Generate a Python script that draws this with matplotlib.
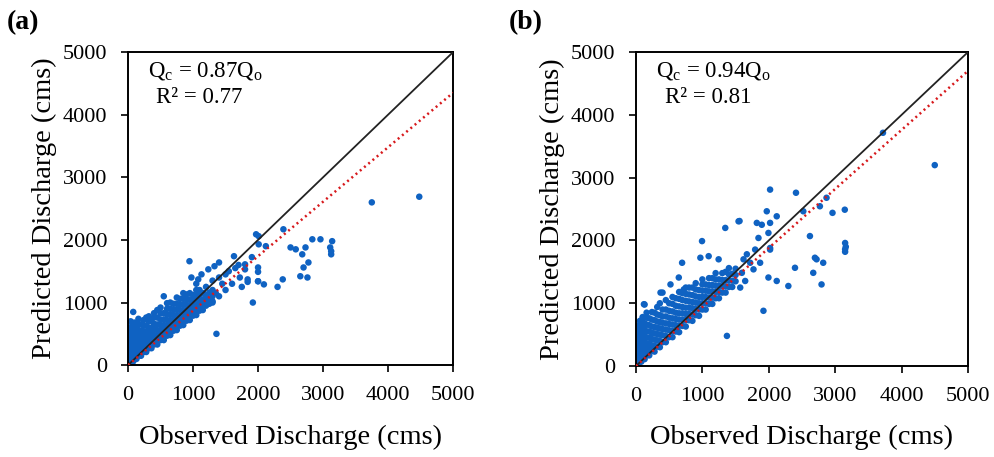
import numpy as np
import matplotlib.pyplot as plt

plt.rcParams['font.family'] = ['Liberation Serif', 'DejaVu Serif']
plt.rcParams['mathtext.fontset'] = 'custom'
plt.rcParams['mathtext.rm'] = 'Liberation Serif'
plt.rcParams['mathtext.it'] = 'Liberation Serif:italic'

# ---- panel (a) data (cms) ----
# dense cloud near origin: observed x -> list of predicted y
cloud_a_x = [0, 20, 40, 60, 80, 100, 130, 160, 200, 240, 280, 320, 360, 400, 450,
             500, 550, 600, 650, 700, 750, 800, 850, 900, 950, 1000, 1050, 1100, 1150,
             1200, 1250, 1300]
cloud_a_y = [
    [20, 80, 150, 250, 350, 450, 550],
    [40, 110, 190, 280, 380, 480, 600],
    [30, 100, 180, 260, 340, 420, 520, 700],
    [70, 140, 210, 290, 370, 450, 540, 620],
    [60, 130, 200, 280, 360, 450, 540, 850],
    [110, 180, 250, 330, 420, 510, 600, 680],
    [100, 170, 250, 330, 410, 500, 600],
    [150, 220, 300, 380, 470, 560, 660, 740],
    [150, 220, 300, 380, 460, 550, 650],
    [210, 280, 360, 450, 540, 630, 720],
    [210, 280, 360, 440, 530, 630, 760],
    [270, 340, 420, 510, 600, 700, 780],
    [270, 340, 420, 500, 590, 700],
    [330, 400, 480, 570, 660, 760, 830],
    [330, 400, 480, 560, 650, 760, 880],
    [400, 470, 550, 640, 730, 830, 920],
    [400, 480, 560, 640, 730, 830],
    [470, 550, 630, 720, 810, 900, 990],
    [480, 560, 640, 720, 810, 900, 1000],
    [550, 630, 710, 800, 890, 980],
    [560, 640, 720, 800, 890, 980, 1080],
    [630, 710, 790, 880, 970, 1060],
    [640, 720, 800, 880, 970, 1060, 1150],
    [710, 790, 870, 960, 1050, 1130],
    [720, 800, 880, 960, 1050, 1150],
    [790, 870, 950, 1040, 1120],
    [800, 880, 960, 1040, 1120, 1200],
    [870, 950, 1030, 1110],
    [880, 960, 1040, 1150],
    [950, 1030, 1110],
    [980, 1060, 1160],
    [1020, 1100, 1200],
]
obs_a = [550, 945, 975, 1080, 1130, 1235, 1330, 1400, 1630, 1360, 1200, 1300, 1400,
         1450, 1500, 1550, 1350, 1250, 1600, 1650, 1700, 1500, 1400, 1300, 1100, 1050,
         1150, 1970, 2010, 2010, 2120, 2390, 1905, 1800, 1800, 2000, 2000, 2000, 1720,
         1840, 1840, 1750, 2000, 2090, 1920, 2300, 2380, 2500, 2580, 2730, 2680, 2775,
         2700, 2650, 2760, 2835, 2960, 3140, 3110, 3125, 3125, 3750, 4480]
pred_a = [1100, 1660, 1400, 1370, 1450, 1530, 1580, 1640, 1740, 500, 1250, 1350, 1400,
          1300, 1450, 1500, 1150, 1050, 1300, 1550, 1600, 1200, 1100, 1000, 1200, 1300,
          1150, 2090, 2060, 1930, 1900, 2170, 1725, 1610, 1530, 1560, 1490, 1340, 1400,
          1370, 1330, 1250, 1340, 1290, 1000, 1250, 1370, 1880, 1850, 1880, 1770, 1640,
          1560, 1420, 1400, 2010, 2010, 1980, 1880, 1820, 1770, 2600, 2690]

# ---- panel (b) data (cms) ----
cloud_b_x = [0, 20, 40, 60, 80, 100, 130, 160, 200, 240, 280, 320, 360, 400, 450, 500,
             550, 600, 650, 700, 750, 800, 850, 900, 950, 1000, 1050, 1100, 1150, 1200,
             1250, 1300, 1350, 1400, 1450, 1500]
cloud_b_y = [
    [20, 100, 180, 270, 360, 450, 550],
    [50, 130, 210, 300, 390, 480, 580],
    [40, 120, 200, 290, 380, 470, 560, 650],
    [80, 160, 250, 340, 440, 540, 640, 720],
    [70, 150, 240, 330, 420, 520, 620],
    [120, 210, 300, 400, 500, 600, 700, 780],
    [110, 200, 290, 380, 480, 580, 680, 980],
    [170, 260, 350, 450, 550, 660, 770, 850],
    [170, 260, 350, 450, 550, 650, 760],
    [240, 330, 430, 530, 630, 740, 860],
    [230, 320, 420, 520, 620, 730, 850],
    [310, 410, 510, 610, 710, 820, 940],
    [300, 400, 500, 600, 700, 810, 1000],
    [380, 490, 590, 690, 790, 900, 1170],
    [380, 480, 580, 680, 790, 900, 1050],
    [460, 570, 670, 770, 880, 1000],
    [460, 560, 660, 760, 870, 990, 1100],
    [550, 650, 750, 850, 960, 1080],
    [540, 640, 740, 840, 950, 1070, 1180],
    [640, 740, 840, 940, 1050, 1160],
    [630, 730, 830, 930, 1040, 1150, 1250],
    [730, 830, 930, 1030, 1140, 1250],
    [720, 820, 920, 1020, 1130, 1250],
    [810, 910, 1010, 1110, 1220, 1320],
    [800, 900, 1000, 1100, 1210],
    [900, 1000, 1100, 1200, 1300, 1380],
    [900, 1000, 1100, 1200, 1300],
    [990, 1090, 1190, 1290, 1400],
    [990, 1090, 1190, 1290, 1400],
    [1080, 1180, 1280, 1380, 1480],
    [1080, 1180, 1280, 1380],
    [1170, 1270, 1370, 1480],
    [1170, 1270, 1370, 1500],
    [1260, 1360, 1460, 1560],
    [1260, 1360, 1470],
    [1350, 1450, 1550],
]
obs_b = [120, 370, 520, 645, 695, 720, 970, 995, 1095, 1245, 1345, 1370, 1545, 1560,
         1570, 1595, 1620, 1645, 1670, 1720, 1770, 1795, 1820, 1845, 1870, 1895, 1920,
         1970, 1995, 1995, 2020, 2020, 2020, 2020, 2120, 2120, 2295, 2395, 2410, 2520,
         2620, 2670, 2695, 2720, 2770, 2795, 2820, 2870, 2960, 3145, 3150, 3160, 3150,
         3150, 3720, 4500]
pred_b = [985, 1170, 1300, 1410, 1645, 1220, 1725, 1990, 1750, 1700, 2200, 480, 2305,
          2310, 1250, 1485, 1700, 1355, 1780, 1645, 1540, 1855, 2280, 2040, 1645, 2250,
          880, 2465, 2120, 1410, 2810, 2280, 1880, 1855, 2385, 1355, 1275, 1565, 2760,
          2465, 2070, 1485, 1725, 1700, 2545, 1300, 1645, 2680, 2440, 2490, 1960, 1900,
          1860, 1820, 3715, 3200]

slope_a = 0.87
slope_b = 0.94
eq_a = ['Q$_{\\rm c}$ = 0.87Q$_{\\rm o}$', 'R² = 0.77']
eq_b = ['Q$_{\\rm c}$ = 0.94Q$_{\\rm o}$', 'R² = 0.81']
ticks = [0, 1000, 2000, 3000, 4000, 5000]
dot_color = '#0f62c2'


def expand(cx, cy):
    xs, ys = [], []
    for x, col in zip(cx, cy):
        for y in col:
            xs.append(x)
            ys.append(y)
    return xs, ys


def draw(ax, cx, cy, ox, oy, slope, eq):
    xs, ys = expand(cx, cy)
    ax.scatter(xs + ox, ys + oy, s=22, color=dot_color, edgecolors='none', zorder=2)
    line = np.array([0, 5000])
    ax.plot(line, line, color='#222222', lw=1.3, zorder=3)
    ax.plot(line, slope * line, color='#d7191c', lw=1.8,
            linestyle=(0, (0.8, 1.4)), zorder=3)
    ax.set_xlim(0, 5000)
    ax.set_ylim(0, 5000)
    ax.set_xticks(ticks)
    ax.set_yticks(ticks)
    ax.tick_params(direction='out', length=5, width=1.2, labelsize=16, pad=10)
    for sp in ax.spines.values():
        sp.set_linewidth(1.4)
    ax.set_xlabel('Observed Discharge (cms)', fontsize=20.5, labelpad=14)
    ax.set_ylabel('Predicted Discharge (cms)', fontsize=20.5, labelpad=4)
    ax.text(0.06, 0.94, eq[0], transform=ax.transAxes, fontsize=16.5,
            va='center', ha='left')
    ax.text(0.087, 0.854, eq[1], transform=ax.transAxes, fontsize=16.5,
            va='center', ha='left')
    return ax


fig = plt.figure(figsize=(9.94, 4.57), dpi=100)
ax1 = fig.add_axes([0.1288, 0.201, 0.327, 0.685])
ax2 = fig.add_axes([0.6398, 0.199, 0.334, 0.687])
draw(ax1, cloud_a_x, cloud_a_y, obs_a, pred_a, slope_a, eq_a)
draw(ax2, cloud_b_x, cloud_b_y, obs_b, pred_b, slope_b, eq_b)
fig.text(0.007, 0.95, '(a)', fontsize=20, fontweight='bold', va='center')
fig.text(0.512, 0.95, '(b)', fontsize=20, fontweight='bold', va='center')

fig.savefig('out.png', dpi=100)
